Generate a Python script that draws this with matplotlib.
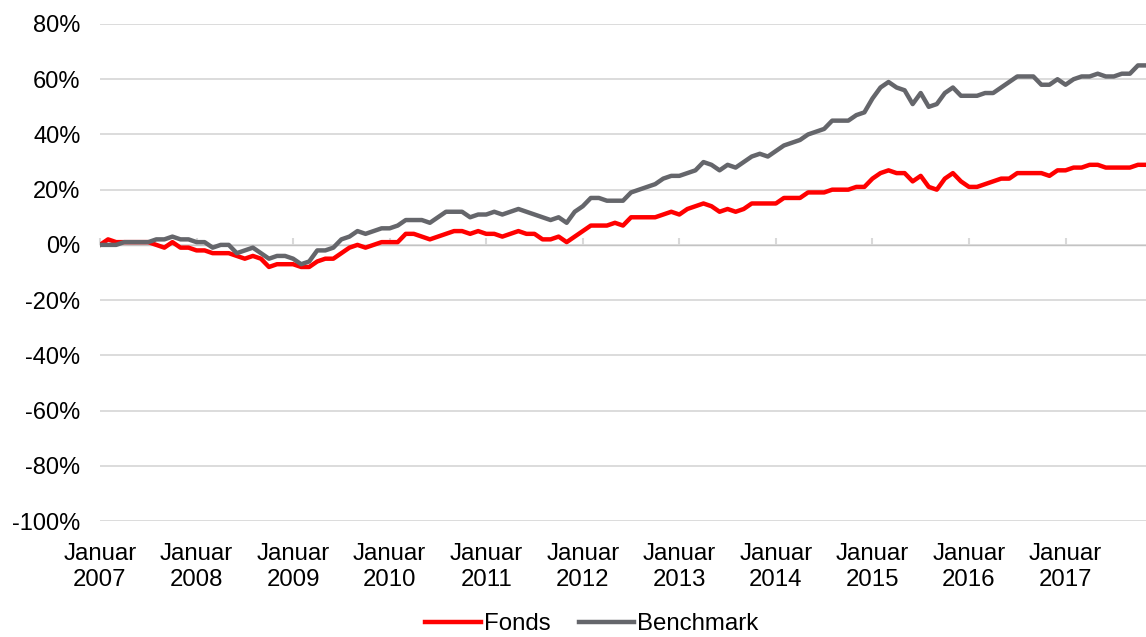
import numpy as np
import matplotlib
matplotlib.use("Agg")
import matplotlib.pyplot as plt

plt.rcParams['font.family'] = ['Liberation Sans', 'DejaVu Sans']

# monthly values, Jan 2007 .. Nov 2017 (in %)
fonds = [0, 2, 1, 1, 1, 1, 1, 0, -1, 1, -1, -1,
         -2, -2, -3, -3, -3, -4, -5, -4, -5, -8, -7, -7,
         -7, -8, -8, -6, -5, -5, -3, -1, 0, -1, 0, 1,
         1, 1, 4, 4, 3, 2, 3, 4, 5, 5, 4, 5,
         4, 4, 3, 4, 5, 4, 4, 2, 2, 3, 1, 3,
         5, 7, 7, 7, 8, 7, 10, 10, 10, 10, 11, 12,
         11, 13, 14, 15, 14, 12, 13, 12, 13, 15, 15, 15,
         15, 17, 17, 17, 19, 19, 19, 20, 20, 20, 21, 21,
         24, 26, 27, 26, 26, 23, 25, 21, 20, 24, 26, 23,
         21, 21, 22, 23, 24, 24, 26, 26, 26, 26, 25, 27,
         27, 28, 28, 29, 29, 28, 28, 28, 28, 29, 29]
benchmark = [0, 0, 0, 1, 1, 1, 1, 2, 2, 3, 2, 2,
             1, 1, -1, 0, 0, -3, -2, -1, -3, -5, -4, -4,
             -5, -7, -6, -2, -2, -1, 2, 3, 5, 4, 5, 6,
             6, 7, 9, 9, 9, 8, 10, 12, 12, 12, 10, 11,
             11, 12, 11, 12, 13, 12, 11, 10, 9, 10, 8, 12,
             14, 17, 17, 16, 16, 16, 19, 20, 21, 22, 24, 25,
             25, 26, 27, 30, 29, 27, 29, 28, 30, 32, 33, 32,
             34, 36, 37, 38, 40, 41, 42, 45, 45, 45, 47, 48,
             53, 57, 59, 57, 56, 51, 55, 50, 51, 55, 57, 54,
             54, 54, 55, 55, 57, 59, 61, 61, 61, 58, 58, 60,
             58, 60, 61, 61, 62, 61, 61, 62, 62, 65, 65]

years = list(range(2007, 2018))
year_labels = ["Januar\n%d" % y for y in years]
y_ticks = list(range(-100, 81, 20))
y_labels = ["%d%%" % v for v in y_ticks]

months = np.arange(len(fonds))
year_pos = [12 * k for k in range(len(years))]

fig = plt.figure(figsize=(11.46, 6.37), dpi=100)
ax = fig.add_axes([100 / 1146, 116 / 637, 1046 / 1146, 497 / 637])

ax.plot(months, fonds, color='#ff0000', lw=3.2, label='Fonds', zorder=3)
ax.plot(months, benchmark, color='#65666b', lw=3.2, label='Benchmark', zorder=3)

ax.set_xlim(0, len(fonds) - 1)
ax.set_ylim(-100, 80)
ax.set_yticks(y_ticks, y_labels)
ax.set_xticks(year_pos, year_labels)
for lbl in ax.get_xticklabels():
    lbl.set_linespacing(1.25)
ax.grid(axis='y', color='#d9d9d9', lw=1.3)
ax.set_axisbelow(True)
for s in ax.spines.values():
    s.set_visible(False)
ax.tick_params(axis='y', length=0, pad=14, labelsize=17)
ax.tick_params(axis='x', length=0, pad=15.5, labelsize=17.3)

# category axis crossing at 0 with small tick marks
sec = ax.secondary_xaxis(100 / 180)
sec.set_xticks(year_pos, [''] * len(year_pos))
sec.tick_params(direction='out', length=5, width=1.5, color='#d9d9d9')
sec.spines['bottom'].set_color('#d9d9d9')
sec.spines['bottom'].set_linewidth(1.3)

fig.legend(loc='center', bbox_to_anchor=(592 / 1146, 1 - 624 / 637), ncol=2,
           frameon=False, fontsize=17.3, handlelength=2.3, handletextpad=0.12,
           columnspacing=1.2, borderpad=0)

fig.savefig('out.png', dpi=100)
